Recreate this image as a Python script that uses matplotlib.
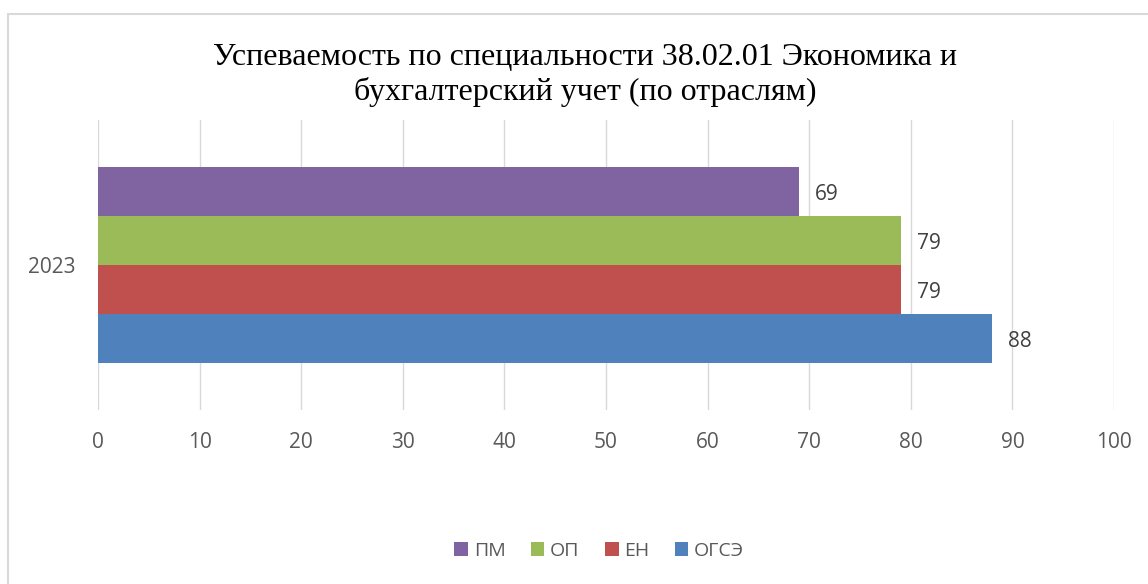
import matplotlib
matplotlib.use('Agg')
import matplotlib.pyplot as plt
from matplotlib.patches import Rectangle

# data
year = "2023"
series = ["ОГСЭ", "ЕН", "ОП", "ПМ"]
values = [88, 79, 79, 69]
colors = ["#4F81BD", "#C0504D", "#9BBB59", "#8064A2"]
xticks = list(range(0, 101, 10))
title = "Успеваемость по специальности 38.02.01 Экономика и\nбухгалтерский учет (по отраслям)"

fig = plt.figure(figsize=(11.48, 5.84), dpi=100)
fig.patches.append(Rectangle((8 / 1148, -0.1), 1.2, (584 - 14) / 584 + 0.1,
                             transform=fig.transFigure, fill=False,
                             edgecolor="#D9D9D9", linewidth=1.5))
ax = fig.add_axes([98 / 1148, 1 - 410 / 584, (1114 - 98) / 1148, 290 / 584])

group = 0.676
h = group / len(series)
for i, (name, v, c) in enumerate(zip(series, values, colors)):
    y = -group / 2 + h * (i + 0.5)
    ax.barh(y, v, height=h, color=c, label=name, zorder=3)
    ax.text(v + 1.6, y - 0.01, str(v), va="center", ha="left",
            fontsize=15, color="#404040", family="Open Sans")

ax.set_xlim(0, 100)
ax.set_ylim(-0.5, 0.5)
ax.set_xticks(xticks)
ax.set_xticklabels([str(t) for t in xticks], fontsize=15, color="#595959", family="Open Sans")
ax.set_yticks([0])
ax.set_yticklabels([year], fontsize=15, color="#595959", family="Open Sans")
ax.tick_params(axis="x", length=0, pad=16)
ax.tick_params(axis="y", length=0, pad=16)
ax.grid(axis="x", color="#D9D9D9", linewidth=1, zorder=0)
for s in ax.spines.values():
    s.set_visible(False)

fig.text(585 / 1148, 1 - 75 / 584, title, ha="center", va="center", fontsize=23,
         family="Liberation Serif", linespacing=1.2)

handles, labels = ax.get_legend_handles_labels()
leg = fig.legend(handles[::-1], labels[::-1], loc="center", bbox_to_anchor=(0.522, 1 - 551 / 584),
                 ncol=4, frameon=False, handlelength=0.7, handleheight=0.7,
                 handletextpad=0.3, columnspacing=1.3,
                 prop={"family": "Open Sans", "size": 14})
for t in leg.get_texts():
    t.set_color("#595959")

fig.savefig("out.png", dpi=100)
